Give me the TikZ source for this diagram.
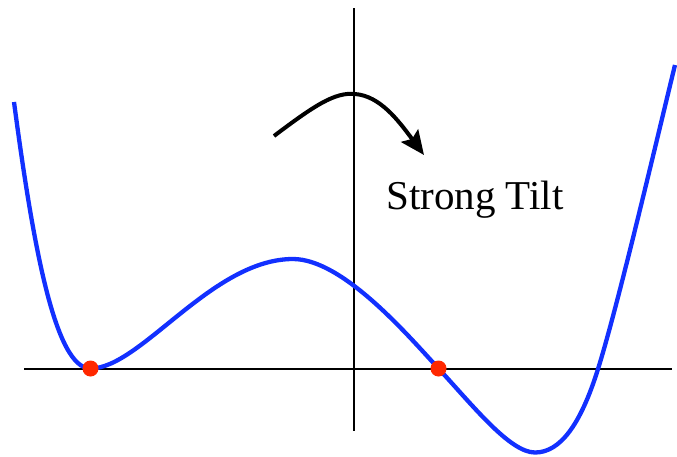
\documentclass[tikz,border=0pt]{standalone}
\usepackage{fontspec}
\setmainfont{Liberation Serif}
\usetikzlibrary{arrows.meta}
\definecolor{curveblue}{RGB}{18,48,255}
\definecolor{dotred}{RGB}{255,40,0}
\begin{document}
\begin{tikzpicture}[x=1pt,y=-1pt,
  axisline/.style={black,line width=1.6pt},
  potential/.style={curveblue,line width=4.3pt},
  mindot/.style={fill=dotred,draw=none},
  tiltarrow/.style={black,line width=4pt,-{Stealth[length=24pt,width=21pt,inset=4pt]}},
  lbl/.style={inner sep=0pt,anchor=base west,font=\fontsize{41}{45}\selectfont}]
\useasboundingbox (0,0) rectangle (677,456);
% axes
\coordinate (xl) at (24,369);
\coordinate (xr) at (672,369);
\coordinate (yt) at (354,8);
\coordinate (yb) at (354,431);
\draw[axisline] (xl) -- (xr);
\draw[axisline] (yt) -- (yb);
% key points of the potential
\coordinate (c0) at (14,102);
\coordinate (m1) at (90.5,368.5);
\coordinate (mx) at (293,259);
\coordinate (z1) at (438.5,368.5);
\coordinate (m2) at (535,452.5);
\coordinate (z2) at (598,369);
\coordinate (c1) at (675,65);
% potential curve
\draw[potential] (c0) .. controls (33,245) and (55,368.5) .. (m1)
  .. controls (140.5,368.5) and (212,259) .. (mx)
  .. controls (343,259) and (408.5,336.1) .. (z1)
  .. controls (473.5,406.3) and (510,452.5) .. (m2)
  .. controls (560,452.5) and (580.5,425) .. (z2)
  .. controls (618,305) and (655,147) .. (c1);
% minima dots
\fill[mindot] (m1) circle (8);
\fill[mindot] (z1) circle (8);
% tilt arrow
\coordinate (as) at (274,136);
\coordinate (ap) at (355,94);
\coordinate (ae) at (424,155);
\draw[tiltarrow] (as) .. controls (315,105) and (335,92) .. (ap) .. controls (380,96) and (398,120) .. (ae);
\node[lbl] (tilt) at (386,209) {Strong Tilt};
\end{tikzpicture}
\end{document}
